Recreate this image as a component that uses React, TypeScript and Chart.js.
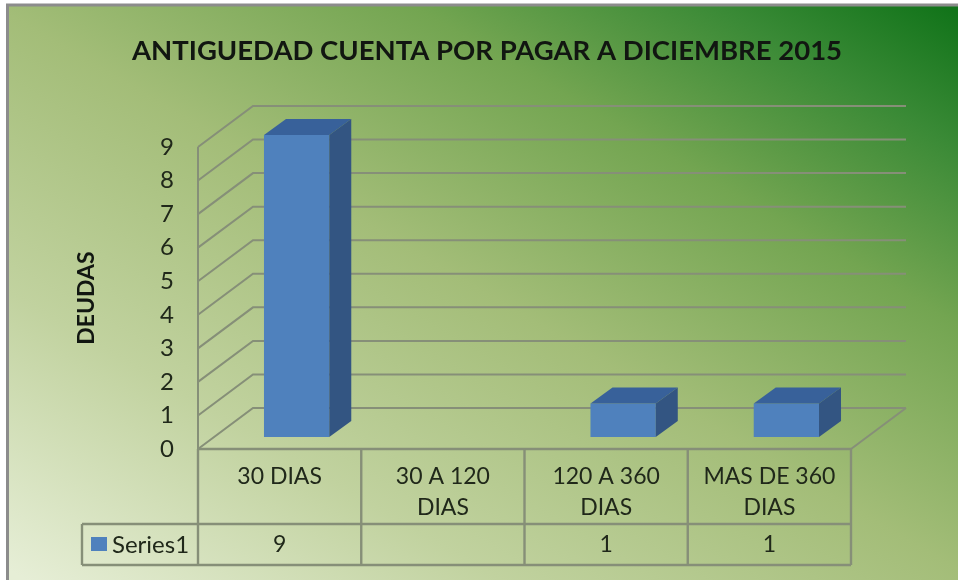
import React, { useEffect, useRef } from "react";
import { Chart, registerables } from "chart.js";

Chart.register(...registerables);

const titleText = "ANTIGUEDAD CUENTA POR PAGAR A DICIEMBRE 2015";
const axisTitle = "DEUDAS";
const categoryLines = [["30 DIAS"], ["30 A 120", "DIAS"], ["120 A 360", "DIAS"], ["MAS DE 360", "DIAS"]];
const categories = categoryLines.map((l) => l.join(" "));
const seriesName = "Series1";
const seriesValues: (number | null)[] = [9, null, 1, 1];

const FONT = "Lato, 'Open Sans', sans-serif";
const TEXT = "#20281a";
const LINE = "#868f78";
const FRONT = "#4f81bd";
const TOP = "#38619a";
const SIDE = "#335582";
const WALL = { dx: 55, dy: -41 };
const BAR_SHIFT = { dx: 17, dy: -12 };
const BAR_DEPTH = { dx: 22, dy: -16 };
const TABLE = { legendLeft: 82, rowTop: 524, rowBottom: 565 };

function seg(ctx: CanvasRenderingContext2D, pts: number[][]) {
  ctx.beginPath();
  pts.forEach((p, i) => (i ? ctx.lineTo(p[0], p[1]) : ctx.moveTo(p[0], p[1])));
  ctx.stroke();
}
function poly(ctx: CanvasRenderingContext2D, pts: number[][], color: string) {
  ctx.fillStyle = color;
  ctx.beginPath();
  pts.forEach((p, i) => (i ? ctx.lineTo(p[0], p[1]) : ctx.moveTo(p[0], p[1])));
  ctx.closePath();
  ctx.fill();
}

const scenePlugin = {
  id: "scene",
  beforeDraw(chart: any) {
    const { ctx, width, height } = chart;
    // the title is centred over the wider plot block of the reference
    chart.titleBlock.left = 123;
    ctx.save();
    ctx.fillStyle = "#ffffff";
    ctx.fillRect(0, 0, width, height);
    const g = ctx.createLinearGradient(238, 704, 722, -124);
    g.addColorStop(0, "#e6eed6");
    g.addColorStop(0.25, "#c1d29f");
    g.addColorStop(0.5, "#a3bd78");
    g.addColorStop(0.72, "#73a551");
    g.addColorStop(0.88, "#3a8a36");
    g.addColorStop(1, "#12741a");
    ctx.fillStyle = g;
    ctx.fillRect(7, 4, width - 7, height - 4);
    ctx.strokeStyle = "#8c8c8c";
    ctx.lineWidth = 3;
    seg(ctx, [[7.5, height], [7.5, 5], [width, 5]]);
    ctx.restore();
  },
  beforeDatasetsDraw(chart: any) {
    const { ctx, chartArea: a, scales } = chart;
    ctx.save();
    ctx.strokeStyle = LINE;
    ctx.lineWidth = 2;
    const y = scales.y;
    y.ticks.forEach((t: any) => {
      const py = y.getPixelForValue(t.value);
      seg(ctx, [[a.left, py], [a.left + WALL.dx, py + WALL.dy], [a.right + WALL.dx, py + WALL.dy]]);
    });
    seg(ctx, [[a.left, a.top], [a.left, a.bottom]]);
    seg(ctx, [[a.right, a.bottom], [a.right + WALL.dx, a.bottom + WALL.dy]]);
    ctx.restore();
    ctx.save();
    ctx.translate(BAR_SHIFT.dx, BAR_SHIFT.dy);
  },
  afterDatasetsDraw(chart: any) {
    const { ctx, chartArea: a, scales } = chart;
    ctx.restore();
    const meta = chart.getDatasetMeta(0);
    meta.data.forEach((el: any, i: number) => {
      if (seriesValues[i] == null) return;
      const r = el.x + el.width / 2 + BAR_SHIFT.dx;
      const l = el.x - el.width / 2 + BAR_SHIFT.dx;
      const t = el.y + BAR_SHIFT.dy;
      const b = el.base + BAR_SHIFT.dy;
      const d = BAR_DEPTH;
      poly(ctx, [[l, t], [r, t], [r + d.dx, t + d.dy], [l + d.dx, t + d.dy]], TOP);
      poly(ctx, [[r, t], [r + d.dx, t + d.dy], [r + d.dx, b + d.dy], [r, b]], SIDE);
    });

    // data table under the plot
    ctx.save();
    ctx.strokeStyle = LINE;
    ctx.lineWidth = 2.4;
    const x = scales.x;
    const step = (a.right - a.left) / categories.length;
    seg(ctx, [[a.left, a.bottom], [a.right, a.bottom]]);
    seg(ctx, [[TABLE.legendLeft, TABLE.rowTop], [a.right, TABLE.rowTop]]);
    seg(ctx, [[TABLE.legendLeft, TABLE.rowBottom], [a.right, TABLE.rowBottom]]);
    seg(ctx, [[TABLE.legendLeft, TABLE.rowTop], [TABLE.legendLeft, TABLE.rowBottom]]);
    for (let i = 0; i <= categories.length; i++) {
      const px = a.left + i * step;
      seg(ctx, [[px, a.bottom], [px, TABLE.rowBottom]]);
    }
    ctx.fillStyle = TEXT;
    ctx.textAlign = "center";
    ctx.textBaseline = "middle";
    ctx.font = `23px ${FONT}`;
    categoryLines.forEach((lines, i) => {
      const px = x.getPixelForValue(i);
      lines.forEach((s, j) => ctx.fillText(s, px, 477 + j * 31));
      const v = seriesValues[i];
      if (v != null) ctx.fillText(String(v), px, 545);
    });
    ctx.fillStyle = FRONT;
    ctx.fillRect(91, 537, 16, 14);
    ctx.fillStyle = TEXT;
    ctx.textAlign = "left";
    ctx.font = `24px ${FONT}`;
    ctx.fillText(seriesName, 112, 545);
    ctx.restore();
  },
};

export default function App() {
  const ref = useRef<HTMLCanvasElement>(null);
  useEffect(() => {
    const chart = new Chart(ref.current as HTMLCanvasElement, {
      type: "bar",
      data: {
        labels: categories,
        datasets: [
          {
            label: seriesName,
            data: seriesValues,
            backgroundColor: FRONT,
            borderWidth: 0,
            barPercentage: 0.4,
            categoryPercentage: 1,
            clip: false,
          } as any,
        ],
      },
      plugins: [scenePlugin],
      options: {
        responsive: false,
        animation: false,
        layout: { padding: { left: 75, right: 107, top: 0, bottom: 131 } },
        plugins: {
          legend: { display: false },
          tooltip: { enabled: false },
          title: {
            display: true,
            text: titleText,
            color: "#111611",
            font: { family: FONT, size: 27.5, weight: "bold", lineHeight: 1.2 },
            padding: { top: 35, bottom: 79 },
          },
        },
        scales: {
          x: { display: false, grid: { display: false } },
          y: {
            min: 0,
            max: 9,
            afterFit(scale: any) {
              scale.width = 123;
            },
            ticks: {
              stepSize: 1,
              color: TEXT,
              padding: 24,
              font: { family: FONT, size: 24 },
            },
            grid: { display: false, drawTicks: false },
            border: { display: false },
            title: {
              display: true,
              text: axisTitle,
              color: "#111611",
              font: { family: FONT, size: 23, weight: "bold", lineHeight: 1.05 },
              padding: 0,
            },
          },
        },
      },
    } as any);
    return () => chart.destroy();
  }, []);
  return (
    <canvas
      ref={ref}
      width={958}
      height={580}
      style={{ position: "absolute", left: 0, top: 0, display: "block" }}
    />
  );
}
